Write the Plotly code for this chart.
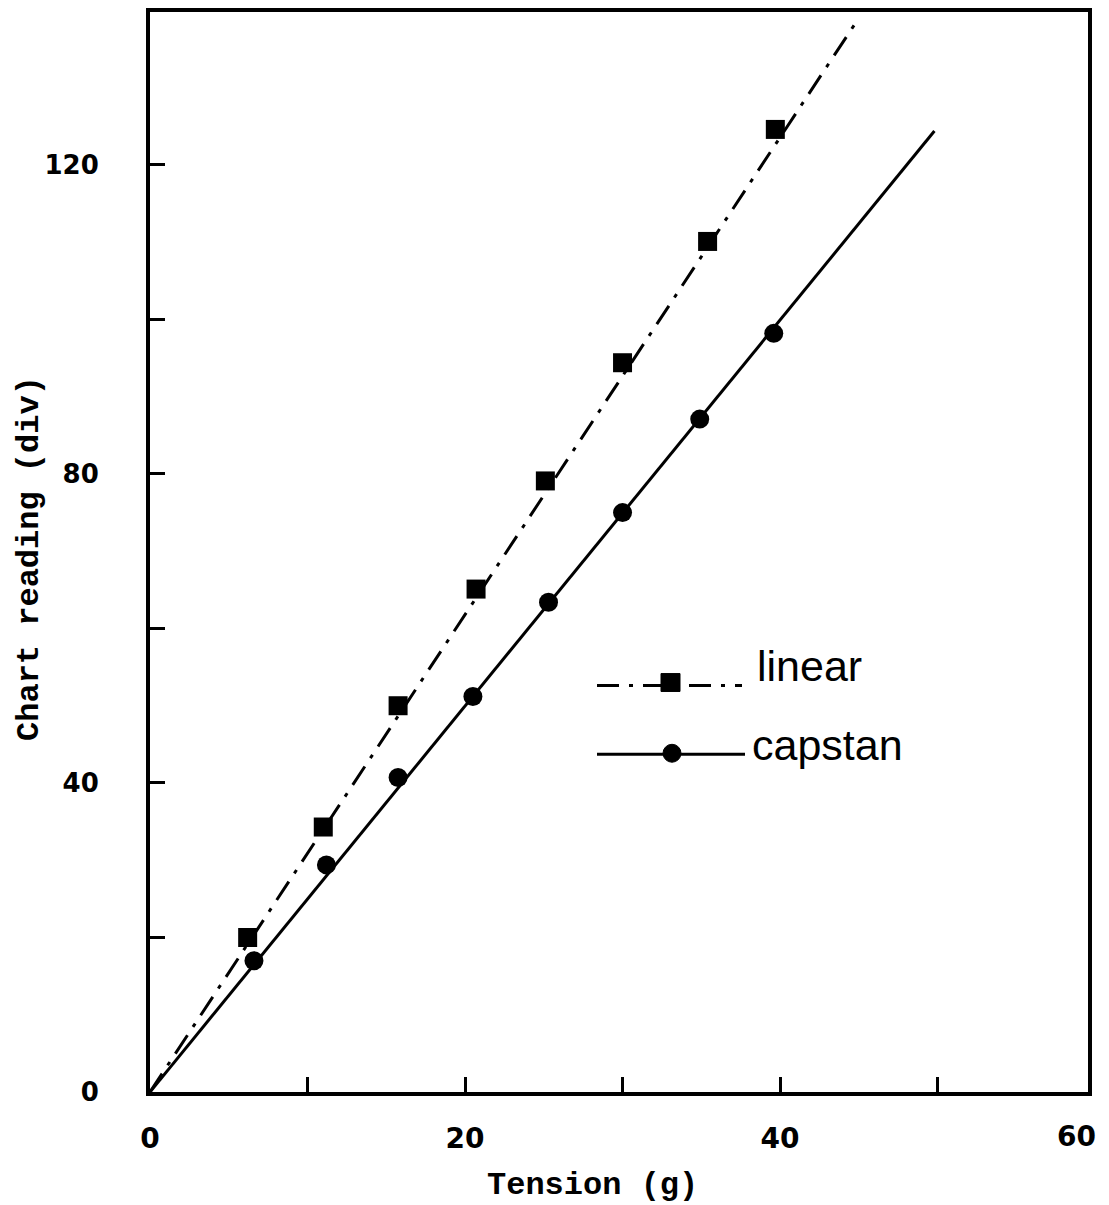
import plotly.graph_objects as go

# Measured readings: linear (squares) and capstan (circles)
linear_tension = [6.2, 11.0, 15.75, 20.7, 25.1, 30.0, 35.4, 39.7]
linear_reading = [20.0, 34.3, 50.0, 65.1, 79.1, 94.4, 110.1, 124.6]

capstan_tension = [6.6, 11.2, 15.75, 20.5, 25.3, 30.0, 34.9, 39.6]
capstan_reading = [17.0, 29.4, 40.7, 51.2, 63.4, 75.0, 87.1, 98.2]

# Straight-line fits through the origin (end points of each drawn line)
linear_fit_tension = [0, 44.8]
linear_fit_reading = [0, 138.4]
capstan_fit_tension = [0, 49.8]
capstan_fit_reading = [0, 124.4]

x_tick_values = [0, 10, 20, 30, 40, 50]
x_tick_labels = ["0", "", "20", "", "40", ""]
y_tick_values = [0, 20, 40, 60, 80, 100, 120]
y_tick_labels = ["0", "", "40", "", "80", "", "120"]

X_MAX = 59.55
Y_MAX = 139.8
DASHDOT = "22px,10px,4px,10px"

fig = go.Figure()

fig.add_trace(go.Scatter(
    x=linear_fit_tension, y=linear_fit_reading, mode="lines",
    line=dict(color="black", width=3, dash=DASHDOT), showlegend=False,
))
fig.add_trace(go.Scatter(
    x=capstan_fit_tension, y=capstan_fit_reading, mode="lines",
    line=dict(color="black", width=3), showlegend=False,
))
fig.add_trace(go.Scatter(
    x=linear_tension, y=linear_reading, mode="markers",
    marker=dict(symbol="square", size=19, color="black"), showlegend=False,
))
fig.add_trace(go.Scatter(
    x=capstan_tension, y=capstan_reading, mode="markers",
    marker=dict(symbol="circle", size=19, color="black"), showlegend=False,
))

L, R, T, B = 150, 21, 8, 113
W, H = 1109, 1205
pw, ph = W - L - R, H - T - B


def px_x(px):
    return (px - L) / pw


def px_y(py):
    return (H - B - py) / ph


# Hand-drawn key
shapes = [
    dict(type="line", xref="paper", yref="paper",
         x0=px_x(597), x1=px_x(742), y0=px_y(684), y1=px_y(684),
         line=dict(color="black", width=3, dash=DASHDOT)),
    dict(type="rect", xref="paper", yref="paper",
         x0=px_x(661), x1=px_x(680), y0=px_y(690), y1=px_y(672),
         fillcolor="black", line=dict(color="black", width=1)),
    dict(type="line", xref="paper", yref="paper",
         x0=px_x(597), x1=px_x(745), y0=px_y(753), y1=px_y(753),
         line=dict(color="black", width=3)),
    dict(type="circle", xref="paper", yref="paper",
         x0=px_x(663), x1=px_x(681), y0=px_y(761), y1=px_y(743),
         fillcolor="black", line=dict(color="black", width=1)),
]

annotations = [
    dict(text="linear", xref="paper", yref="paper", x=px_x(755), y=px_y(664),
         xanchor="left", yanchor="middle", showarrow=False,
         font=dict(family="Liberation Sans", size=43, color="black")),
    dict(text="capstan", xref="paper", yref="paper", x=px_x(750), y=px_y(744),
         xanchor="left", yanchor="middle", showarrow=False,
         font=dict(family="Liberation Sans", size=43, color="black")),
    dict(text="60", xref="paper", yref="paper", x=px_x(1076), y=px_y(1137),
         xanchor="center", yanchor="middle", showarrow=False,
         font=dict(family="DejaVu Sans", size=28, color="black", weight="bold")),
    dict(text="Tension (g)", xref="paper", yref="paper", x=px_x(592), y=px_y(1186),
         xanchor="center", yanchor="middle", showarrow=False,
         font=dict(family="Liberation Mono", size=32, color="black", weight="bold")),
    dict(text="Chart reading (div)", xref="paper", yref="paper", x=px_x(30), y=px_y(557),
         xanchor="center", yanchor="middle", showarrow=False, textangle=-90,
         font=dict(family="Liberation Mono", size=32, color="black", weight="bold")),
]

fig.update_layout(
    width=W, height=H,
    margin=dict(l=L, r=R, t=T, b=B),
    paper_bgcolor="white", plot_bgcolor="white",
    showlegend=False,
    shapes=shapes,
    annotations=annotations,
    xaxis=dict(
        range=[0, X_MAX], tickmode="array", tickvals=x_tick_values, ticktext=x_tick_labels,
        ticks="inside", ticklen=15, tickwidth=3, tickcolor="black",
        showline=True, linewidth=4, linecolor="black", mirror=True,
        showgrid=False, zeroline=False, ticklabelstandoff=18,
        tickfont=dict(family="DejaVu Sans", size=28, color="black", weight="bold"),
    ),
    yaxis=dict(
        range=[0, Y_MAX], tickmode="array", tickvals=y_tick_values, ticktext=y_tick_labels,
        ticks="inside", ticklen=15, tickwidth=3, tickcolor="black",
        showline=True, linewidth=4, linecolor="black", mirror=True,
        showgrid=False, zeroline=False, ticklabelstandoff=42,
        tickfont=dict(family="DejaVu Sans", size=26, color="black", weight="bold"),
    ),
)

fig.write_html("out.html")
